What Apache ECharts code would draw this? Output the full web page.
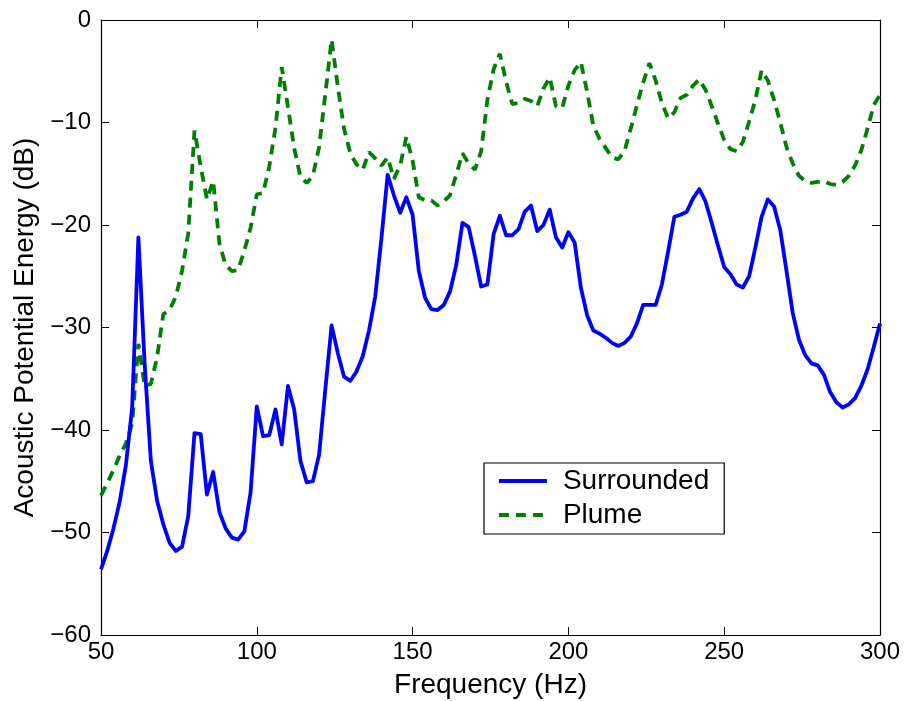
<!DOCTYPE html>
<html>
<head>
<meta charset="utf-8">
<script src="https://cdn.jsdelivr.net/npm/echarts@6/dist/echarts.min.js"></script>
<style>
html,body{margin:0;padding:0;background:#fff;}
#chart{width:907px;height:701px;}
</style>
</head>
<body>
<div id="chart"></div>
<script>
var frequency = [50,52,54,56,58,60,62,64,66,68,70,72,74,76,78,80,82,84,86,88,90,92,94,96,98,100,102,104,106,108,110,112,114,116,118,120,122,124,126,128,130,132,134,136,138,140,142,144,146,148,150,152,154,156,158,160,162,164,166,168,170,172,174,176,178,180,182,184,186,188,190,192,194,196,198,200,202,204,206,208,210,212,214,216,218,220,222,224,226,228,230,232,234,236,238,240,242,244,246,248,250,252,254,256,258,260,262,264,266,268,270,272,274,276,278,280,282,284,286,288,290,292,294,296,298,300];

var surrounded = [-53.6,-51.8,-49.6,-47.0,-43.4,-37.8,-21.2,-33.5,-43.0,-46.9,-49.2,-51.0,-51.8,-51.4,-48.4,-40.3,-40.4,-46.3,-44.1,-48.0,-49.6,-50.5,-50.7,-49.9,-46.1,-37.7,-40.6,-40.5,-38.0,-41.4,-35.7,-38.0,-43.0,-45.1,-45.0,-42.4,-36.0,-29.8,-32.5,-34.8,-35.2,-34.3,-32.8,-30.3,-27.0,-21.3,-15.1,-17.1,-18.8,-17.3,-19.0,-24.5,-27.1,-28.2,-28.3,-27.8,-26.5,-23.9,-19.8,-20.2,-23.0,-26.0,-25.8,-20.9,-19.1,-21.0,-21.0,-20.4,-18.7,-18.1,-20.6,-20.0,-18.5,-21.2,-22.2,-20.7,-21.7,-26.1,-28.8,-30.3,-30.6,-31.0,-31.5,-31.8,-31.5,-30.9,-29.6,-27.8,-27.8,-27.8,-25.8,-22.6,-19.2,-19.0,-18.7,-17.4,-16.5,-17.7,-19.8,-22.0,-24.1,-24.8,-25.8,-26.1,-25.0,-22.2,-19.2,-17.5,-18.2,-20.5,-24.5,-28.6,-31.2,-32.7,-33.5,-33.7,-34.6,-36.3,-37.3,-37.8,-37.5,-36.9,-35.7,-34.1,-31.9,-29.6];

var plume = [-46.4,-45.2,-43.9,-42.5,-41.3,-39.4,-31.6,-35.7,-35.5,-32.9,-28.7,-28.3,-27.0,-24.5,-20.8,-10.8,-14.3,-17.5,-15.7,-21.8,-23.9,-24.5,-24.4,-22.5,-20.3,-17.0,-16.9,-14.3,-10.5,-4.6,-8.5,-12.5,-15.3,-15.9,-15.2,-12.4,-7.2,-1.9,-6.5,-10.6,-13.0,-14.1,-14.6,-12.9,-13.5,-14.2,-13.4,-15.5,-14.2,-11.4,-13.7,-17.3,-17.6,-17.6,-18.1,-17.7,-17.1,-15.1,-13.0,-14.0,-14.6,-12.8,-7.8,-4.8,-3.3,-6.0,-8.2,-8.1,-7.7,-7.9,-8.4,-6.7,-5.6,-8.4,-8.6,-6.4,-4.9,-4.1,-7.0,-10.3,-11.6,-12.5,-13.4,-13.6,-12.8,-10.6,-8.3,-6.1,-4.2,-5.9,-8.1,-9.6,-9.0,-7.6,-7.3,-6.4,-5.8,-6.8,-8.4,-10.1,-11.7,-12.6,-12.8,-11.9,-9.9,-7.8,-4.9,-5.9,-7.8,-10.0,-12.4,-14.0,-15.2,-15.7,-15.9,-15.8,-15.7,-16.0,-16.1,-15.8,-15.2,-14.2,-12.7,-10.6,-8.3,-7.3];

var seriesNames = ['Surrounded', 'Plume'];
var xTicks = [50, 100, 150, 200, 250, 300];
var yTicks = [-60, -50, -40, -30, -20, -10, 0];
var xTitle = 'Frequency (Hz)';
var yTitle = 'Acoustic Potential Energy (dB)';

function pairs(xs, ys) {
  var out = [];
  for (var i = 0; i < xs.length; i++) out.push([xs[i], ys[i]]);
  return out;
}

var FONT = 'Liberation Sans, Arial, Helvetica, sans-serif';
var chart = echarts.init(document.getElementById('chart'), null, {renderer: 'canvas'});

function minusFmt(v) { return String(v).replace('-', '\u2212'); }

var axisCommon = {
  axisLine: {show: true, onZero: false, lineStyle: {color: '#000', width: 1.2}},
  axisTick: {show: true, inside: true, length: 8, lineStyle: {color: '#000', width: 1}},
  splitLine: {show: false}
};

chart.setOption({
  animation: false,
  backgroundColor: '#fff',
  textStyle: {fontFamily: FONT},
  grid: {left: 101, right: 27, top: 20, bottom: 66, containLabel: false, outerBoundsMode: 'none'},
  xAxis: [
    Object.assign({
      type: 'value', position: 'bottom',
      min: xTicks[0], max: xTicks[xTicks.length - 1], interval: 50,
      name: xTitle, nameLocation: 'middle', nameGap: 36,
      nameTextStyle: {fontSize: 28, color: '#000', fontFamily: FONT},
      axisLabel: {show: true, color: '#000', fontSize: 24, margin: 5, fontFamily: FONT}
    }, axisCommon),
    Object.assign({
      type: 'value', position: 'top',
      min: xTicks[0], max: xTicks[xTicks.length - 1], interval: 50,
      axisLabel: {show: false}
    }, axisCommon)
  ],
  yAxis: [
    Object.assign({
      type: 'value', position: 'left',
      min: yTicks[0], max: yTicks[yTicks.length - 1], interval: 10,
      name: yTitle, nameLocation: 'middle', nameGap: 57, nameRotate: 90,
      nameTextStyle: {fontSize: 28, color: '#000', fontFamily: FONT},
      axisLabel: {show: true, color: '#000', fontSize: 24, margin: 10, fontFamily: FONT, formatter: minusFmt}
    }, axisCommon),
    Object.assign({
      type: 'value', position: 'right',
      min: yTicks[0], max: yTicks[yTicks.length - 1], interval: 10,
      axisLabel: {show: false}
    }, axisCommon)
  ],
  legend: {
    show: true,
    orient: 'vertical',
    left: 484, top: 463,
    backgroundColor: '#fff',
    borderColor: '#000', borderWidth: 1.2, borderRadius: 0,
    padding: [3, 15, 4, 13],
    itemWidth: 48, itemHeight: 14, itemGap: 4,
    itemStyle: {opacity: 0},
    lineStyle: {width: 3.8, type: 'inherit', color: 'inherit'},
    textStyle: {fontSize: 28, color: '#000', fontFamily: FONT, lineHeight: 30, padding: [0, 0, 0, 11]},
    data: seriesNames
  },
  series: [
    {
      name: seriesNames[0], type: 'line', xAxisIndex: 0, yAxisIndex: 0,
      data: pairs(frequency, surrounded),
      symbol: 'none', smooth: false,
      lineStyle: {color: '#0000ff', width: 3.8, join: 'round'},
      itemStyle: {color: '#0000ff'}, z: 3
    },
    {
      name: seriesNames[1], type: 'line', xAxisIndex: 0, yAxisIndex: 0,
      data: pairs(frequency, plume),
      symbol: 'none', smooth: false,
      lineStyle: {color: '#008000', width: 3.8, type: [10, 7]},
      itemStyle: {color: '#008000'}, z: 2
    }
  ]
});
</script>
</body>
</html>
